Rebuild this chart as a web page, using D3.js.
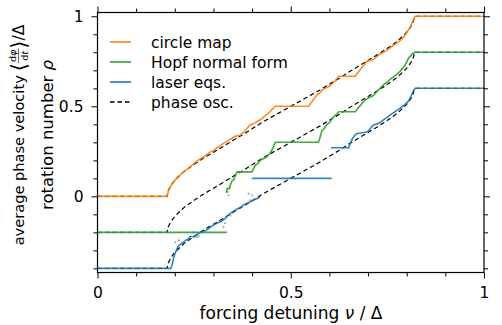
<!DOCTYPE html>
<html>
<head>
<meta charset="utf-8">
<script src="https://cdn.jsdelivr.net/npm/d3@7"></script>
<style>
  body { margin: 0; background: #fff; }
  svg { display: block; }
  text { font-family: "DejaVu Sans", sans-serif; fill: #000; }
</style>
</head>
<body>
<div class="canvas"></div>
<script>
// ---------------- data: [nu, rho (shifted)] ----------------

// circle map (no shift)
const circleMap = [[0,0],[0.18,0],[0.184,0.034],[0.193,0.071],[0.206,0.104],[0.215,0.12],
  [0.223,0.136],[0.235,0.155],[0.245,0.173],[0.258,0.197],[0.268,0.21],[0.275,0.22],
  [0.285,0.235],[0.292,0.247],[0.3,0.255],[0.313,0.275],[0.326,0.294],[0.335,0.305],
  [0.344,0.317],[0.355,0.333],[0.37,0.341],[0.38,0.36],[0.395,0.397],[0.405,0.405],
  [0.421,0.425],[0.433,0.445],[0.447,0.471],[0.455,0.49],[0.46,0.5],[0.546,0.5],
  [0.555,0.527],[0.568,0.564],[0.578,0.58],[0.585,0.596],[0.602,0.614],[0.61,0.63],
  [0.618,0.65],[0.624,0.667],[0.667,0.667],[0.673,0.685],[0.68,0.704],[0.69,0.73],
  [0.697,0.75],[0.714,0.76],[0.722,0.775],[0.731,0.79],[0.745,0.805],[0.757,0.825],
  [0.77,0.845],[0.783,0.865],[0.793,0.885],[0.8,0.91],[0.808,0.935],[0.813,0.96],
  [0.818,0.985],[0.822,1],[1,1]];

// Hopf normal form (shifted by -0.2), two branches
const hopfLow = [[0,-0.2],[0.335,-0.2]];
const hopfHigh = [[0.333,0.02],[0.336,0.045],[0.34,0.04],[0.344,0.065],[0.348,0.085],
  [0.352,0.09],[0.356,0.11],[0.361,0.136],[0.4,0.136],[0.404,0.155],[0.408,0.173],
  [0.414,0.18],[0.421,0.2],[0.43,0.21],[0.438,0.22],[0.445,0.235],[0.452,0.26],
  [0.46,0.3],[0.572,0.3],[0.576,0.33],[0.58,0.36],[0.586,0.375],[0.594,0.4],[0.6,0.41],
  [0.61,0.44],[0.618,0.455],[0.624,0.47],[0.667,0.47],[0.674,0.49],[0.68,0.505],
  [0.69,0.53],[0.7,0.545],[0.714,0.56],[0.722,0.58],[0.731,0.6],[0.74,0.62],[0.75,0.635],
  [0.757,0.65],[0.77,0.67],[0.783,0.694],[0.795,0.725],[0.804,0.765],[0.81,0.78],
  [0.816,0.795],[0.822,0.8],[1,0.8]];
const hopfDots = [[0.339,0.006],[0.337,0.025],[0.342,0.05]];

// laser equations (shifted by -0.4), three pieces
const laserA = [[0,-0.4],[0.19,-0.4],[0.193,-0.38],[0.197,-0.34],[0.202,-0.31],
  [0.208,-0.28],[0.215,-0.265],[0.225,-0.25],[0.235,-0.235],[0.24,-0.222],[0.25,-0.226],
  [0.26,-0.207],[0.27,-0.2],[0.28,-0.19],[0.29,-0.175],[0.3,-0.16],[0.31,-0.148],
  [0.32,-0.14],[0.33,-0.124],[0.34,-0.1],[0.35,-0.085],[0.36,-0.072],[0.37,-0.06],
  [0.38,-0.045],[0.39,-0.035],[0.4,-0.025],[0.41,-0.015],[0.42,-0.005]];
const laserB = [[0.4,0.1],[0.606,0.1]];
const laserC = [[0.604,0.27],[0.65,0.27],[0.655,0.3],[0.66,0.322],[0.668,0.345],
  [0.675,0.35],[0.69,0.355],[0.7,0.36],[0.707,0.38],[0.714,0.397],[0.722,0.4],
  [0.731,0.41],[0.74,0.425],[0.75,0.44],[0.757,0.452],[0.77,0.47],[0.783,0.49],
  [0.795,0.51],[0.805,0.53],[0.812,0.56],[0.818,0.59],[0.822,0.6],[1,0.6]];
const laserDots = [[0.201,-0.255],[0.21,-0.245],[0.219,-0.264],[0.249,-0.199],
  [0.258,-0.227],[0.262,-0.218],[0.326,-0.171],[0.33,-0.15],[0.344,-0.106],
  [0.391,0.015],[0.395,-0.022],[0.4,0.006]];

// phase oscillator rotation number (unshifted); drawn at shifts 0, -0.2, -0.4
const phaseOsc = [[0,0],[0.18,0],[0.183,0.03],[0.19,0.06],[0.2,0.088],[0.21,0.11],
  [0.225,0.14],[0.25,0.178],[0.275,0.213],[0.3,0.245],[0.325,0.277],[0.35,0.31],
  [0.375,0.342],[0.4,0.375],[0.425,0.41],[0.45,0.44],[0.475,0.47],[0.5,0.5],
  [0.525,0.53],[0.55,0.56],[0.575,0.59],[0.6,0.623],[0.625,0.655],[0.65,0.69],
  [0.675,0.722],[0.7,0.755],[0.725,0.787],[0.75,0.822],[0.775,0.86],[0.79,0.89],
  [0.8,0.912],[0.81,0.94],[0.817,0.97],[0.82,1],[1,1]];
const phaseShifts = [0, -0.2, -0.4];

const xMajor = [0, 0.5, 1];
const xMinor = [0.1,0.2,0.3,0.4,0.6,0.7,0.8,0.9];
const yMajor = [0, 0.5, 1];
const yMinor = [-0.4,-0.3,-0.2,-0.1,0.1,0.2,0.3,0.4,0.6,0.7,0.8,0.9];

const legendNames = ["circle map", "Hopf normal form", "laser eqs.", "phase osc."];

const orange = "#ff7f0e", green = "#2ca02c", blue = "#1f77b4";

// ---------------- layout ----------------
const svgWidth = 502;
const svgHeight = 325;
const plot = {left: 97.5, right: 484, top: 12.5, bottom: 272.5};

const svg = d3.select('.canvas')
  .append('svg')
    .attr('width', svgWidth)
    .attr('height', svgHeight);

const x = d3.scaleLinear().domain([0, 1]).range([plot.left, plot.right]);
const y = d3.scaleLinear().domain([-0.423, 1.021]).range([plot.bottom, plot.top]);

const line = d3.line().x(d => x(d[0])).y(d => y(d[1]));

// phase oscillator curves (dashed, underneath)
phaseShifts.forEach(s => {
  svg.append('path')
    .attr('d', line(phaseOsc.map(d => [d[0], d[1] + s])))
    .attr('fill', 'none')
    .attr('stroke', '#000')
    .attr('stroke-width', 1.2)
    .attr('stroke-dasharray', '4.5,3');
});

const curves = [
  {data: circleMap, color: orange},
  {data: hopfLow, color: green},
  {data: hopfHigh, color: green},
  {data: laserA, color: blue},
  {data: laserB, color: blue},
  {data: laserC, color: blue}
];

curves.forEach(c => {
  svg.append('path')
    .attr('d', line(c.data))
    .attr('fill', 'none')
    .attr('stroke', c.color)
    .attr('stroke-width', 1.6)
    .attr('stroke-opacity', 0.9)
    .attr('stroke-linejoin', 'round');
});

// scattered points around the noisy branches
svg.append('g').selectAll('circle')
  .data(laserDots.map(d => ({d, c: blue})).concat(hopfDots.map(d => ({d, c: green}))))
  .enter().append('circle')
    .attr('cx', p => x(p.d[0]))
    .attr('cy', p => y(p.d[1]))
    .attr('r', 1.1)
    .attr('fill', p => p.c)
    .attr('opacity', 0.55);

// ---------------- axes ----------------
const axisFont = '15.5px';

function addAxis(axisFn, scale, transform, major, minor, labels) {
  const gMin = svg.append('g').attr('transform', transform)
    .call(axisFn(scale).tickValues(minor).tickSize(4).tickFormat(''));
  const gMaj = svg.append('g').attr('transform', transform)
    .call(axisFn(scale).tickValues(major).tickSize(6).tickPadding(8)
      .tickFormat(labels ? d3.format('') : ''));
  [gMin, gMaj].forEach(g => {
    g.select('.domain').remove();
    g.selectAll('line').attr('stroke', '#000').attr('stroke-width', 1);
    g.selectAll('text').style('font-size', axisFont).attr('font-family', null);
  });
}

addAxis(d3.axisBottom, x, `translate(0,${plot.bottom})`, xMajor, xMinor, true);
addAxis(d3.axisTop, x, `translate(0,${plot.top})`, xMajor, xMinor, false);
addAxis(d3.axisLeft, y, `translate(${plot.left},0)`, yMajor, yMinor, true);
addAxis(d3.axisRight, y, `translate(${plot.right},0)`, yMajor, yMinor, false);

svg.append('rect')
  .attr('x', plot.left).attr('y', plot.top)
  .attr('width', plot.right - plot.left).attr('height', plot.bottom - plot.top)
  .attr('fill', 'none').attr('stroke', '#000').attr('stroke-width', 1.2);

// ---------------- legend ----------------
const legendColors = [orange, green, blue, '#000'];
const legend = svg.append('g');
legendNames.forEach((name, i) => {
  const ly = 42 + i * 20;
  legend.append('line')
    .attr('x1', 110).attr('x2', 131).attr('y1', ly).attr('y2', ly)
    .attr('stroke', legendColors[i]).attr('stroke-width', 1.6)
    .attr('stroke-dasharray', i === 3 ? '4.5,3' : null);
  legend.append('text')
    .attr('x', 151).attr('y', ly + 5.5)
    .style('font-size', '15.5px')
    .text(name);
});

// ---------------- axis labels ----------------
const xLab = svg.append('text')
  .attr('x', 291).attr('y', 319)
  .attr('text-anchor', 'middle')
  .style('font-size', '17px');
xLab.append('tspan').text('forcing detuning ');
xLab.append('tspan').style('font-style', 'italic').text('ν');
xLab.append('tspan').text(' / Δ');

// y label: two lines, rotated
const yLab = svg.append('g').attr('transform', 'translate(0,135) rotate(-90)');

const base1 = 23.5;
const t1 = yLab.append('text').attr('y', base1).style('font-size', '14.6px')
  .text('average phase velocity');
const bL = yLab.append('text').attr('y', base1 + 2.5).style('font-size', '21px').text('⟨');
const num = yLab.append('text').attr('y', 16.3).style('font-size', '9.5px')
  .attr('text-anchor', 'middle');
num.append('tspan').text('d');
num.append('tspan').style('font-style', 'italic').text('φ');
const den = yLab.append('text').attr('y', 27.8).style('font-size', '9.5px')
  .attr('text-anchor', 'middle');
den.append('tspan').text('d');
den.append('tspan').style('font-style', 'italic').text('t');
const bR = yLab.append('text').attr('y', base1 + 2.5).style('font-size', '21px').text('⟩');
const t2 = yLab.append('text').attr('y', base1).style('font-size', '15.5px').text('/Δ');

const w1 = t1.node().getComputedTextLength();
const wb = bL.node().getComputedTextLength();
const wf = Math.max(num.node().getComputedTextLength(), den.node().getComputedTextLength()) + 2;
const w2 = t2.node().getComputedTextLength();
const gap = 4;
const total = w1 + gap + wb + wf + wb + w2;
let cx = -total / 2;
t1.attr('x', cx); cx += w1 + gap;
bL.attr('x', cx); cx += wb;
num.attr('x', cx + wf / 2);
den.attr('x', cx + wf / 2);
yLab.append('line')
  .attr('x1', cx).attr('x2', cx + wf).attr('y1', 18.6).attr('y2', 18.6)
  .attr('stroke', '#000').attr('stroke-width', 0.6);
cx += wf;
bR.attr('x', cx); cx += wb;
t2.attr('x', cx);

const l2 = yLab.append('text').attr('x', 0).attr('y', 52.5)
  .attr('text-anchor', 'middle').style('font-size', '16.5px');
l2.append('tspan').text('rotation number ');
l2.append('tspan').style('font-style', 'italic').text('ρ');
</script>
</body>
</html>
